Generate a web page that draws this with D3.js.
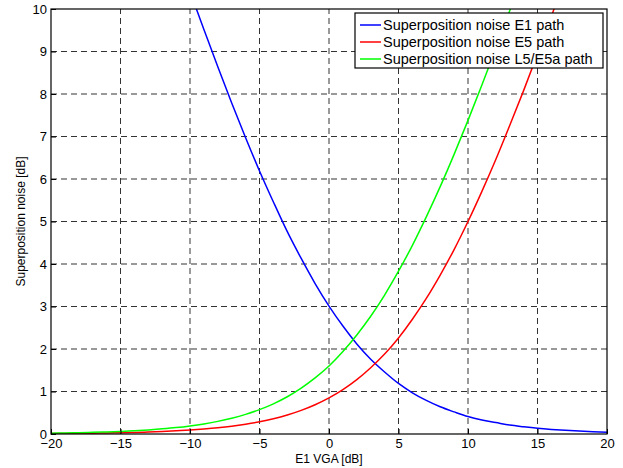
<!DOCTYPE html>
<html>
<head>
<meta charset="utf-8">
<script src="https://cdn.jsdelivr.net/npm/d3@7"></script>
<style>
  body { margin: 0; background: #fff; }
  text { font-family: "Liberation Sans", Arial, sans-serif; fill: #000; }
</style>
</head>
<body>
<script>
var width = 623;
var height = 468;
var padding = { left: 51, top: 9, right: 16, bottom: 34 };

// E1 VGA [dB]
var vga = d3.range(-20, 21);
var xTicks = [-20, -15, -10, -5, 0, 5, 10, 15, 20];
var yTicks = [0, 1, 2, 3, 4, 5, 6, 7, 8, 9, 10];

// superposition noise [dB] (null = off the top)
var noiseE1 = [null, null, null, null, null, null, null, null, null, null,
  10.41, 9.52, 8.64, 7.79, 6.97, 6.19, 5.46, 4.76, 4.13, 3.54,
  3.01, 2.54, 2.12, 1.76, 1.46, 1.19, 0.97, 0.79, 0.64, 0.52,
  0.41, 0.33, 0.27, 0.21, 0.17, 0.135, 0.108, 0.086, 0.068, 0.054, 0.043];
var noiseE5 = [0.009, 0.012, 0.015, 0.019, 0.024, 0.030, 0.037, 0.047, 0.059, 0.074,
  0.093, 0.117, 0.146, 0.183, 0.23, 0.287, 0.358, 0.447, 0.556, 0.689,
  0.85, 1.045, 1.28, 1.56, 1.88, 2.26, 2.70, 3.19, 3.74, 4.34,
  5.00, 5.71, 6.46, 7.26, 8.08, 8.94, 9.83, 10.73, null, null, null];
var noiseL5 = [0.019, 0.024, 0.031, 0.039, 0.049, 0.061, 0.077, 0.096, 0.121, 0.151,
  0.19, 0.238, 0.297, 0.371, 0.462, 0.574, 0.71, 0.876, 1.08, 1.32,
  1.60, 1.94, 2.33, 2.77, 3.27, 3.83, 4.44, 5.11, 5.82, 6.58,
  7.38, 8.21, 9.07, 9.96, 10.87, null, null, null, null, null, null];

var series = [
  { name: 'Superposition noise E1 path', color: '#0000ff', values: noiseE1 },
  { name: 'Superposition noise E5 path', color: '#ff0000', values: noiseE5 },
  { name: 'Superposition noise L5/E5a path', color: '#00ff00', values: noiseL5 }
];

var svg = d3.select('body')
            .append('svg')
            .attr('width', width)
            .attr('height', height);

var xScale = d3.scaleLinear()
                .domain([-20, 20])
                .range([padding.left, width - padding.right]);

var yScale = d3.scaleLinear()
                .domain([0, 10])
                .range([height - padding.bottom, padding.top]);

var x0 = xScale.range()[0], x1 = xScale.range()[1];
var y0 = yScale.range()[0], y1 = yScale.range()[1];

svg.append('clipPath').attr('id', 'plot')
  .append('rect')
    .attr('x', x0).attr('y', y1)
    .attr('width', x1 - x0).attr('height', y0 - y1);

// dashed grid
svg.append('g')
  .selectAll('line')
  .data(xTicks.slice(1, -1))
  .enter().append('line')
    .attr('x1', function (d) { return xScale(d); })
    .attr('x2', function (d) { return xScale(d); })
    .attr('y1', y0).attr('y2', y1)
    .attr('stroke', '#000').attr('stroke-opacity', 0.8)
    .attr('stroke-dasharray', '6,4');

svg.append('g')
  .selectAll('line')
  .data(yTicks.slice(1, -1))
  .enter().append('line')
    .attr('y1', function (d) { return yScale(d); })
    .attr('y2', function (d) { return yScale(d); })
    .attr('x1', x0).attr('x2', x1)
    .attr('stroke', '#000').attr('stroke-opacity', 0.8)
    .attr('stroke-dasharray', '6,4');

// curves
var line = d3.line()
  .defined(function (d) { return d[1] != null; })
  .x(function (d) { return xScale(d[0]); })
  .y(function (d) { return yScale(d[1]); })
  .curve(d3.curveMonotoneX);

svg.append('g')
    .attr('clip-path', 'url(#plot)')
  .selectAll('path')
  .data(series)
  .enter().append('path')
    .attr('d', function (s) { return line(vga.map(function (v, i) { return [v, s.values[i]]; })); })
    .attr('fill', 'none')
    .attr('stroke', function (s) { return s.color; })
    .attr('stroke-width', 1.5);

// axes
var xAxis = svg.append('g')
    .attr('transform', `translate(0,${y0})`)
    .call(d3.axisBottom(xScale).tickValues(xTicks).tickSizeInner(-5).tickSizeOuter(0).tickPadding(5)
      .tickFormat(function (d) { return d < 0 ? '\u2212' + Math.abs(d) : d; }));
xAxis.select('.domain').remove();
xAxis.selectAll('text').style('font-size', '13px');

var yAxis = svg.append('g')
    .attr('transform', `translate(${x0},0)`)
    .call(d3.axisLeft(yScale).tickValues(yTicks).tickSizeInner(-5).tickSizeOuter(0).tickPadding(4));
yAxis.select('.domain').remove();
yAxis.selectAll('text').style('font-size', '13px');

svg.append('rect')
    .attr('x', x0).attr('y', y1)
    .attr('width', x1 - x0).attr('height', y0 - y1)
    .attr('fill', 'none').attr('stroke', '#000').attr('stroke-width', 1.2);

svg.append('text')
    .attr('x', xScale(0)).attr('y', 463)
    .attr('text-anchor', 'middle')
    .style('font-size', '12px')
    .text('E1 VGA [dB]');

svg.append('text')
    .attr('transform', `translate(25,${(y0 + y1) / 2}) rotate(-90)`)
    .attr('text-anchor', 'middle')
    .style('font-size', '12px')
    .text('Superposition noise [dB]');

// legend
var legend = svg.append('g').attr('transform', 'translate(355,13)');
legend.append('rect')
    .attr('width', 248).attr('height', 55)
    .attr('fill', '#fff').attr('stroke', '#000').attr('stroke-width', 1.2);
var items = legend.selectAll('g.item')
  .data(series)
  .enter().append('g')
    .attr('class', 'item')
    .attr('transform', function (d, i) { return `translate(0,${12 + i * 17})`; });
items.append('line')
    .attr('x1', 5).attr('x2', 26)
    .attr('stroke', function (d) { return d.color; })
    .attr('stroke-width', 1.5);
items.append('text')
    .attr('x', 28).attr('dy', '0.35em')
    .style('font-size', '14.5px')
    .text(function (d) { return d.name; });
</script>
</body>
</html>
